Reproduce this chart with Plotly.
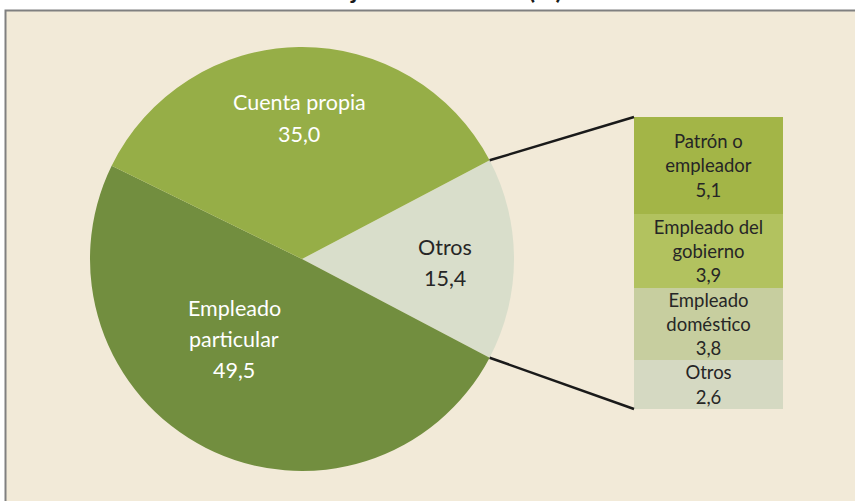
import math
import plotly.graph_objects as go

# Población ocupada según posición en el trabajo (%)
pie_labels = ["Otros", "Empleado<br>particular", "Cuenta propia"]
pie_values = [15.4, 49.5, 35.0]
pie_colors = ["#D9DECB", "#728E3F", "#96AE47"]
pie_text_colors = ["#262626", "#FFFFFF", "#FFFFFF"]

# Desglose de "Otros", de abajo hacia arriba
bar_labels = ["Otros", "Empleado<br>doméstico", "Empleado del<br>gobierno", "Patrón o<br>empleador"]
bar_values = [2.6, 3.8, 3.9, 5.1]
bar_colors = ["#D5D9C2", "#C7CE9F", "#B2C25F", "#A3B547"]

title_text = "Porcentaje sobre el total (%)"

# ---- page geometry (pixels) ----
W, H = 855, 501
PIE_CX, PIE_CY, PIE_R = 302, 259, 212
BAR_X0, BAR_X1, BAR_TOP, BAR_BOTTOM = 634, 783, 117, 409
LINE_GAP = 31
pie_label_pos = [(445, 262), (234, 339), (299, 118)]
FONT = "Lato, 'Open Sans', sans-serif"


def fx(px):
    return px / W


def fy(py):
    return 1 - py / H


def fmt(v):
    return f"{v:.1f}".replace(".", ",")


fig = go.Figure()

# first slice is centred on 3 o'clock, slices run clockwise
otros_half_deg = 180 * pie_values[0] / sum(pie_values)
fig.add_trace(go.Pie(
    labels=[l.replace("<br>", " ") for l in pie_labels],
    values=pie_values,
    sort=False,
    direction="clockwise",
    rotation=90 - otros_half_deg,
    marker=dict(colors=pie_colors, line=dict(width=0)),
    textinfo="none",
    hoverinfo="label+value",
    showlegend=False,
    domain=dict(x=[fx(PIE_CX - PIE_R), fx(PIE_CX + PIE_R)],
                y=[fy(PIE_CY + PIE_R), fy(PIE_CY - PIE_R)]),
))

for lab, val, col in zip(bar_labels, bar_values, bar_colors):
    fig.add_trace(go.Bar(
        x=[0], y=[val], width=[1],
        marker=dict(color=col, line=dict(width=0)),
        text=[f"{lab}<br>{fmt(val)}"],
        textposition="inside",
        insidetextanchor="middle",
        textangle=0,
        constraintext="none",
        textfont=dict(family=FONT, size=18.5, color="#262626"),
        hoverinfo="y",
        showlegend=False,
    ))

annotations = []
for lab, val, col, (px, py) in zip(pie_labels, pie_values, pie_text_colors, pie_label_pos):
    lines = lab.split("<br>") + [fmt(val)]
    n = len(lines)
    for k, line in enumerate(lines):
        annotations.append(dict(
            x=fx(px), y=fy(py + (k - (n - 1) / 2) * LINE_GAP),
            xref="paper", yref="paper", xanchor="center", yanchor="middle",
            text=line, showarrow=False,
            font=dict(family=FONT, size=21.5, color=col),
        ))

annotations.append(dict(
    x=fx(250), y=fy(6), xref="paper", yref="paper",
    xanchor="left", yanchor="bottom", showarrow=False,
    text=f"<b>{title_text}</b>",
    font=dict(family=FONT, size=25, color="#1A1A1A"),
))

# connector lines from the "Otros" slice edges to the breakdown bar
a_top = math.radians(90 - otros_half_deg)
a_bot = math.radians(90 + otros_half_deg)
top_pt = (PIE_CX + PIE_R * math.sin(a_top), PIE_CY - PIE_R * math.cos(a_top))
bot_pt = (PIE_CX + PIE_R * math.sin(a_bot), PIE_CY - PIE_R * math.cos(a_bot))

shapes = [
    dict(type="rect", xref="paper", yref="paper", layer="below",
         x0=fx(5.5), x1=fx(W + 10), y0=fy(H + 10), y1=fy(10.5),
         fillcolor="#F2EAD8", line=dict(color="#808080", width=2)),
    dict(type="line", xref="paper", yref="paper", layer="above",
         x0=fx(top_pt[0]), y0=fy(top_pt[1]), x1=fx(BAR_X0), y1=fy(BAR_TOP),
         line=dict(color="#1A1A1A", width=2.5)),
    dict(type="line", xref="paper", yref="paper", layer="above",
         x0=fx(bot_pt[0]), y0=fy(bot_pt[1]), x1=fx(BAR_X0), y1=fy(BAR_BOTTOM),
         line=dict(color="#1A1A1A", width=2.5)),
]

fig.update_layout(
    width=W, height=H,
    margin=dict(l=0, r=0, t=0, b=0),
    paper_bgcolor="#FFFFFF",
    plot_bgcolor="rgba(0,0,0,0)",
    barmode="stack", bargap=0,
    uniformtext=dict(mode="show", minsize=18.5),
    xaxis=dict(domain=[fx(BAR_X0), fx(BAR_X1)], range=[-0.5, 0.5], visible=False, fixedrange=True),
    yaxis=dict(domain=[fy(BAR_BOTTOM), fy(BAR_TOP)], range=[0, sum(bar_values)], visible=False, fixedrange=True),
    annotations=annotations,
    shapes=shapes,
    showlegend=False,
)

fig.write_html("out.html")
